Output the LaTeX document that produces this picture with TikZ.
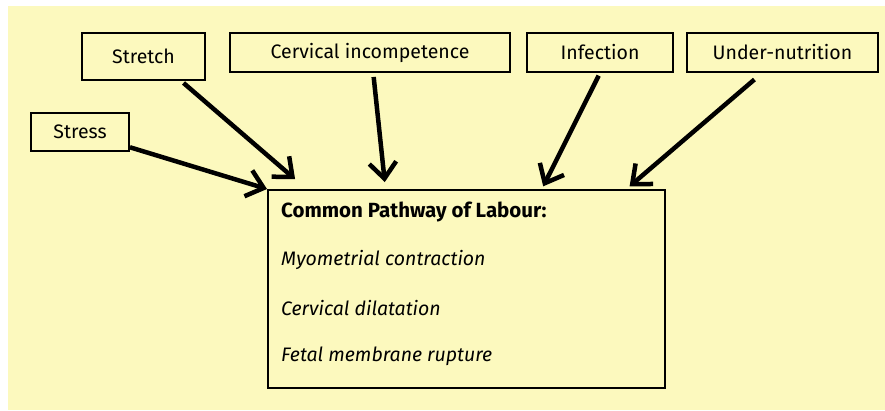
\documentclass[tikz,border=0pt]{standalone}
\usepackage{fontspec}
\setmainfont{Fira Sans}
\usetikzlibrary{arrows.meta}
\definecolor{fondo}{HTML}{FCF9BE}

\begin{document}
\begin{tikzpicture}[
    x=1pt,
    y=-1pt,
    causa/.style={draw, line width=2pt, inner sep=0pt, font=\fontsize{19.5}{23}\selectfont},
    via/.style={draw, line width=2pt, minimum width=397pt, minimum height=198pt},
    linea/.style={font=\fontsize{19.5}{23}\selectfont\itshape, anchor=west, inner sep=0pt},
    flecha/.style={line width=4.5pt, -{Straight Barb[length=16pt, width=27pt]}}
]
\useasboundingbox (0,0) rectangle (885,410);
\fill[fondo] (8,6) rectangle (885,410);

% Causas / centro / medidas
\foreach \nombre/\cx/\cy/\ancho/\alto/\texto in {
    stress/80/132/98/38/Stress,
    stretch/143.5/56.5/123/47/Stretch,
    cervical/370/52.5/280/39/Cervical incompetence,
    infection/600/52.5/146/39/Infection,
    nutrition/782.5/52.5/191/39/Under-nutrition}
{
    \node[causa, minimum width=\ancho pt, minimum height=\alto pt] (\nombre) at (\cx,\cy) {\texto};
}

% Via comun
\node[via] (pathway) at (466.5,289) {};
\node[linea, font=\fontsize{20.5}{24}\selectfont\bfseries] (titulo) at (281,212) {Common Pathway of Labour:};
\foreach \texto [count=\i] in {
    Myometrial contraction,
    Cervical dilatation,
    Fetal membrane rupture}
{
    \node[linea] (linea\i) at (281,212+48*\i) {\texto};
}

% Flechas
\draw[flecha] (stress.-17) -- (pathway.north west);
\draw[flecha, shorten <=3pt, shorten >=15pt] (stretch.-33) -- (pathway.148);
\draw[flecha, shorten <=4pt, shorten >=7pt] (cervical.-81) -- (pathway.129);
\draw[flecha, shorten <=3pt, shorten >=3pt] (infection.south) -- (pathway.53);
\draw[flecha, shorten <=10pt, shorten >=4pt] (nutrition.225) -- (pathway.32);

\end{tikzpicture}
\end{document}
